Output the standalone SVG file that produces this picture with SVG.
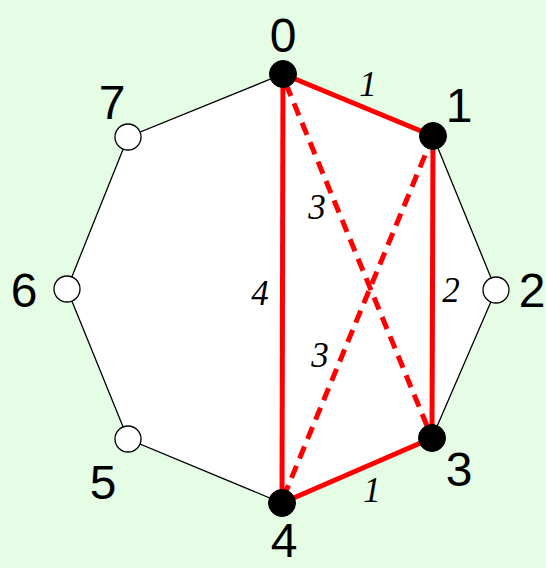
<svg xmlns="http://www.w3.org/2000/svg" width="546" height="568" viewBox="0 0 546 568">
<style>
.num{font-family:"Liberation Sans",Arial,sans-serif;font-size:48px;fill:#000;text-anchor:middle}
.w{font-family:"Liberation Serif","DejaVu Serif",serif;font-style:italic;font-size:35px;fill:#000;text-anchor:middle}
.sel{stroke:#ff0000;stroke-width:5;fill:none}
.dash{stroke:#ff0000;stroke-width:5;fill:none;stroke-dasharray:13 8}
.on{fill:#000;stroke:#000;stroke-width:1}
.off{fill:#fff;stroke:#000;stroke-width:1.3}
</style>
<rect width="546" height="568" fill="#e4fde4"/>
<polygon points="283,74 433,136 496,290 432,438 282,503 128,439 67,289 128,137" fill="#fff" stroke="#000" stroke-width="1.3"/>
<g id="connectors">
<line class="sel" x1="283" y1="74" x2="433" y2="136"/>
<line class="sel" x1="433" y1="136" x2="432" y2="438"/>
<line class="sel" x1="432" y1="438" x2="282" y2="503"/>
<line class="sel" x1="282" y1="503" x2="283" y2="74"/>
<line class="dash" x1="286" y1="84" x2="432" y2="438"/>
<line class="dash" x1="433" y1="136" x2="284" y2="496"/>
<text class="w" x="368" y="96">1</text>
<text class="w" x="451" y="302">2</text>
<text class="w" x="372" y="502">1</text>
<text class="w" x="260" y="305">4</text>
<text class="w" x="317" y="219">3</text>
<text class="w" x="320" y="367">3</text>
</g>
<g id="n0"><circle class="on" cx="283" cy="74" r="13.5"/><text class="num" x="283" y="52">0</text></g>
<g id="n1"><circle class="on" cx="433" cy="136" r="13.5"/><text class="num" x="459" y="122">1</text></g>
<g id="n2"><circle class="off" cx="496" cy="290" r="13"/><text class="num" x="532" y="307">2</text></g>
<g id="n3"><circle class="on" cx="432" cy="438" r="13.5"/><text class="num" x="459" y="486">3</text></g>
<g id="n4"><circle class="on" cx="282" cy="503" r="13.5"/><text class="num" x="284" y="557">4</text></g>
<g id="n5"><circle class="off" cx="128" cy="439" r="13"/><text class="num" x="103" y="499">5</text></g>
<g id="n6"><circle class="off" cx="67" cy="289" r="13"/><text class="num" x="24" y="307">6</text></g>
<g id="n7"><circle class="off" cx="128" cy="137" r="13"/><text class="num" x="112" y="119">7</text></g>
</svg>
